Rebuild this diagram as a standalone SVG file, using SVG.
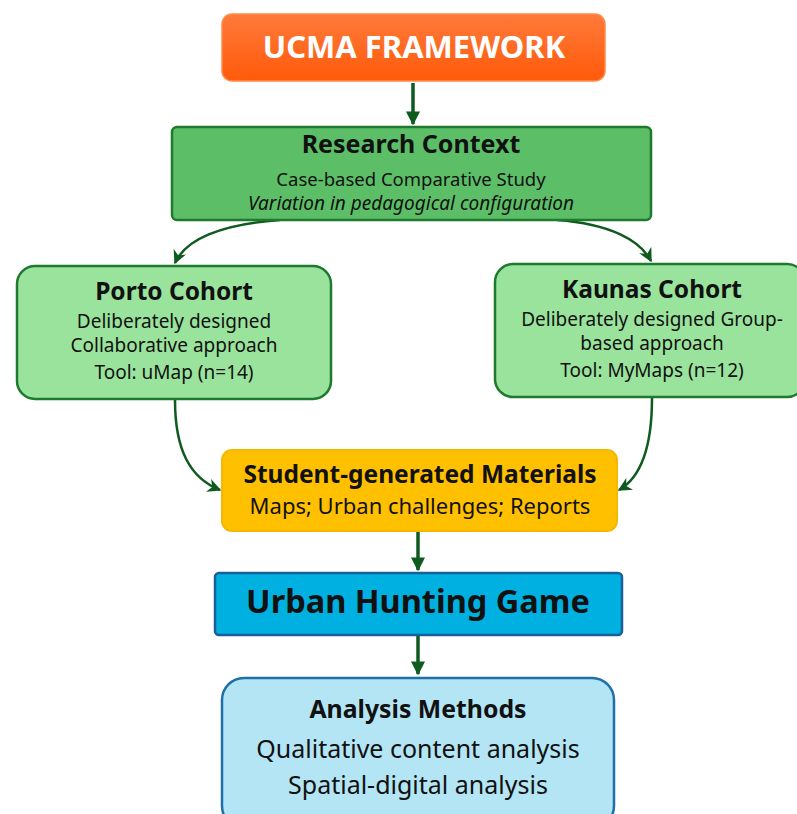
<svg xmlns="http://www.w3.org/2000/svg" width="797" height="814" viewBox="0 0 797 814">
<defs>
<linearGradient id="og" x1="0" y1="0" x2="0" y2="1">
<stop offset="0" stop-color="#FF7A3A"/>
<stop offset="1" stop-color="#FF5A0A"/>
</linearGradient>
<marker id="ah" viewBox="0 0 10 10" refX="9" refY="5" markerWidth="4" markerHeight="4" orient="auto" markerUnits="strokeWidth">
<path d="M0,0 L10,5 L0,10 z" fill="#0F5A1E"/>
</marker>
<marker id="ah2" viewBox="0 0 10 10" refX="9" refY="5" markerWidth="5.5" markerHeight="5.5" orient="auto" markerUnits="strokeWidth">
<path d="M0,0 L10,5 L0,10 L3,5 z" fill="#0F5A1E"/>
</marker>
</defs>
<style>
text{font-family:"Noto Sans","Open Sans",sans-serif;text-anchor:middle;fill:#111}
.b{font-weight:bold}
.conn{fill:none;stroke:#0F5A1E}
</style>
<rect width="797" height="814" fill="#fff"/>
<g id="connectors">
<path class="conn" d="M413,83 L413,124" stroke-width="3.5" marker-end="url(#ah)"/>
<path class="conn" d="M280,220 C220,224 185,240 175,263" stroke-width="2.5" marker-end="url(#ah2)"/>
<path class="conn" d="M557,220 C610,224 640,240 651,261" stroke-width="2.5" marker-end="url(#ah2)"/>
<path class="conn" d="M175,400 C175,450 190,478 220,490" stroke-width="2.5" marker-end="url(#ah2)"/>
<path class="conn" d="M652,398 C652,450 640,478 619,490" stroke-width="2.5" marker-end="url(#ah2)"/>
<path class="conn" d="M418,532 L418,570" stroke-width="3.5" marker-end="url(#ah)"/>
<path class="conn" d="M418,636 L418,674" stroke-width="3.5" marker-end="url(#ah)"/>
</g>
<g id="ucma">
<rect x="222" y="14" width="383" height="67" rx="10" fill="url(#og)" stroke="#FF8A4A" stroke-width="1.5"/>
<text x="414" y="58" class="b" font-size="31" style="fill:#fff">UCMA FRAMEWORK</text>
</g>
<g id="research">
<rect x="172" y="127" width="479" height="93" rx="5" fill="#5CBF68" stroke="#1E7A2E" stroke-width="2.5"/>
<text x="411" y="153" class="b" font-size="25">Research Context</text>
<text x="411" y="186" font-size="18.5">Case-based Comparative Study</text>
<text x="411" y="210" font-size="19" font-style="italic">Variation in pedagogical configuration</text>
</g>
<g id="porto">
<rect x="17" y="266" width="314" height="133" rx="18" fill="#9AE39C" stroke="#1E7A2E" stroke-width="2.5"/>
<text x="174" y="300" class="b" font-size="24.5">Porto Cohort</text>
<text x="174" y="328" font-size="19">Deliberately designed</text>
<text x="174" y="352" font-size="19">Collaborative approach</text>
<text x="174" y="379" font-size="19">Tool: uMap (n=14)</text>
</g>
<g id="kaunas">
<rect x="495" y="264" width="310" height="133" rx="18" fill="#9AE39C" stroke="#1E7A2E" stroke-width="2.5"/>
<text x="652" y="298" class="b" font-size="24.5">Kaunas Cohort</text>
<text x="652" y="326" font-size="19">Deliberately designed Group-</text>
<text x="652" y="350" font-size="19">based approach</text>
<text x="652" y="377" font-size="19">Tool: MyMaps (n=12)</text>
</g>
<g id="student">
<rect x="222" y="450" width="395" height="81" rx="10" fill="#FFC000" stroke="#F5B800" stroke-width="2"/>
<text x="420" y="483" class="b" font-size="24.5">Student-generated Materials</text>
<text x="420" y="514" font-size="22">Maps; Urban challenges; Reports</text>
</g>
<g id="urban">
<rect x="215" y="573" width="407" height="62" rx="4" fill="#00B0E0" stroke="#1A5E9A" stroke-width="2.5"/>
<text x="418" y="613" class="b" font-size="32.5">Urban Hunting Game</text>
</g>
<g id="analysis">
<rect x="222" y="678" width="392" height="150" rx="22" fill="#B3E5F5" stroke="#1F6FA8" stroke-width="2.5"/>
<text x="418" y="718" class="b" font-size="24.8">Analysis Methods</text>
<text x="418" y="758" font-size="25">Qualitative content analysis</text>
<text x="418" y="794" font-size="25">Spatial-digital analysis</text>
</g>
</svg>
